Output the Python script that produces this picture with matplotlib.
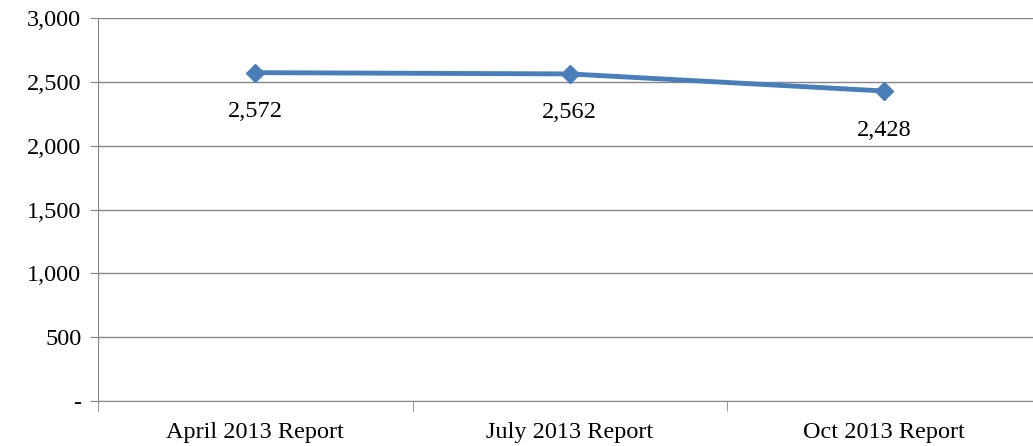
import matplotlib
matplotlib.use("Agg")
import matplotlib.pyplot as plt

categories = ["April 2013 Report", "July 2013 Report", "Oct 2013 Report"]
values = [2572, 2562, 2428]
yticks = [0, 500, 1000, 1500, 2000, 2500, 3000]
ytick_labels = ["-", "500", "1,000", "1,500", "2,000", "2,500", "3,000"]

plt.rcParams['font.family'] = ['Liberation Serif', 'DejaVu Serif']
fig = plt.figure(figsize=(10.33, 4.46), dpi=100)
W, H = 1033, 446
ax = fig.add_axes([98/W, 1-401/H, (1041.5-98)/W, (401-18)/H])
x = list(range(len(categories)))
ax.plot(x, values, color='#4A7EBB', lw=3.5, marker='D', ms=9, zorder=3)
for xi, v in zip(x, values):
    ax.annotate(f"{v:,}", (xi, v), xytext=(0, -39), textcoords='offset pixels',
                ha='center', va='center', fontsize=17.5)
ax.set_xlim(-0.5, 2.5)
ax.set_ylim(0, 3000)
ax.set_yticks(yticks)
ax.set_yticklabels(ytick_labels, fontsize=17.5)
ax.set_xticks(x)
ax.set_xticklabels(categories, fontsize=17.5)
ax.tick_params(axis='x', length=0, pad=15)
ax.tick_params(axis='y', pad=6)
ax.set_xticks([-0.5, 0.5, 1.5, 2.5], minor=True)
ax.tick_params(axis='x', which='minor', length=7, color='#868686')
ax.tick_params(axis='y', length=6, color='#868686')
ax.grid(axis='y', color='#868686', lw=1)
ax.set_axisbelow(True)
for s in ['top', 'right']:
    ax.spines[s].set_visible(False)
for s in ['left', 'bottom']:
    ax.spines[s].set_color('#868686')
fig.savefig("out.png", dpi=100)
